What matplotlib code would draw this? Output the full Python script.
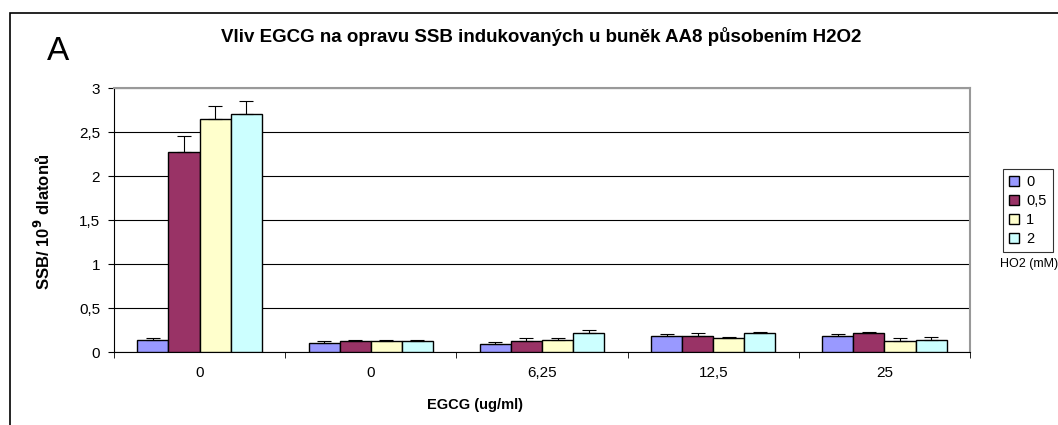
import numpy as np
import matplotlib
matplotlib.use('Agg')
import matplotlib.pyplot as plt
from matplotlib.patches import Rectangle

plt.rcParams['font.family'] = ['Liberation Sans', 'DejaVu Sans']

# EGCG concentrations (x categories)
categories = ['0', '0', '6,25', '12,5', '25']
# H2O2 concentrations (series)
series_names = ['0', '0,5', '1', '2']

ssb_0 = [0.135, 0.105, 0.093, 0.185, 0.185]
ssb_05 = [2.27, 0.125, 0.125, 0.185, 0.215]
ssb_1 = [2.65, 0.125, 0.14, 0.155, 0.125]
ssb_2 = [2.71, 0.125, 0.215, 0.215, 0.14]

err_0 = [0.025, 0.015, 0.017, 0.015, 0.015]
err_05 = [0.18, 0.015, 0.035, 0.03, 0.015]
err_1 = [0.14, 0.015, 0.02, 0.015, 0.03]
err_2 = [0.14, 0.015, 0.035, 0.015, 0.03]

values = [ssb_0, ssb_05, ssb_1, ssb_2]
errors = [err_0, err_05, err_1, err_2]
colors = ['#9999FF', '#993366', '#FFFFCC', '#CCFFFF']

W, H = 1058, 425
fig = plt.figure(figsize=(W / 100, H / 100), dpi=100)

# outer chart frame
fig.patches.append(Rectangle((10 / W, -0.1), 1.2, 1 - 13 / H + 0.1,
                             transform=fig.transFigure, fill=False,
                             edgecolor='black', linewidth=1.2))

ax = fig.add_axes([114 / W, 1 - 352 / H, (970 - 114) / W, (352 - 88) / H])

n = len(series_names)
bw = 1 / (n + 1.5)
x = np.arange(len(categories))
for i in range(n):
    pos = x + (i - (n - 1) / 2) * bw
    ax.bar(pos, values[i], width=bw, color=colors[i], edgecolor='black',
           linewidth=1, label=series_names[i], zorder=3)
    ax.errorbar(pos, values[i], yerr=[np.zeros(len(categories)), errors[i]],
                fmt='none', ecolor='black', elinewidth=0.8, capsize=5,
                capthick=0.8, zorder=4)

ax.set_xlim(-0.5, len(categories) - 0.5)
ax.set_ylim(0, 3)
ax.set_yticks(np.arange(0, 3.01, 0.5))
ax.set_yticklabels(['0', '0,5', '1', '1,5', '2', '2,5', '3'])
ax.set_xticks(x)
ax.set_xticklabels(categories)
ax.set_xticks(np.arange(-0.5, len(categories), 1), minor=True)
ax.tick_params(axis='x', which='major', length=0, pad=10, labelsize=11)
ax.tick_params(axis='x', which='minor', length=4, direction='out')
ax.tick_params(axis='y', length=4, direction='out', labelsize=11, pad=6)
ax.yaxis.grid(True, color='black', linewidth=0.8, zorder=0)

for s in ['top', 'right']:
    ax.spines[s].set_color('#999999')
    ax.spines[s].set_linewidth(1.5)
ax.spines['left'].set_color('black')
ax.spines['bottom'].set_color('black')

fig.text(541 / W, 1 - 37 / H,
         'Vliv EGCG na opravu SSB indukovaných u buněk AA8 působením H2O2',
         ha='center', va='center', fontsize=13.5, fontweight='bold')
fig.text(58 / W, 1 - 52 / H, 'A', ha='center', va='center', fontsize=24)
fig.text(43 / W, 1 - 222 / H, 'SSB/ 10$^{\\mathbf{9}}$ dlatonů', rotation=90,
         ha='center', va='center', fontsize=12, fontweight='bold')
fig.text(475 / W, 1 - 405 / H, 'EGCG (ug/ml)', ha='center', va='center',
         fontsize=10.5, fontweight='bold')

leg = fig.legend(loc='upper left', bbox_to_anchor=(1003 / W, 1 - 169 / H),
                 frameon=True, fancybox=False, edgecolor='black',
                 fontsize=10.5, handlelength=0.7, handleheight=0.7,
                 handletextpad=0.5, labelspacing=0.35, borderpad=0.4,
                 borderaxespad=0)
leg.get_frame().set_linewidth(0.8)
fig.text(1000 / W, 1 - 264 / H, 'HO2 (mM)', ha='left', va='center', fontsize=9)

fig.savefig('out.png', dpi=100)
